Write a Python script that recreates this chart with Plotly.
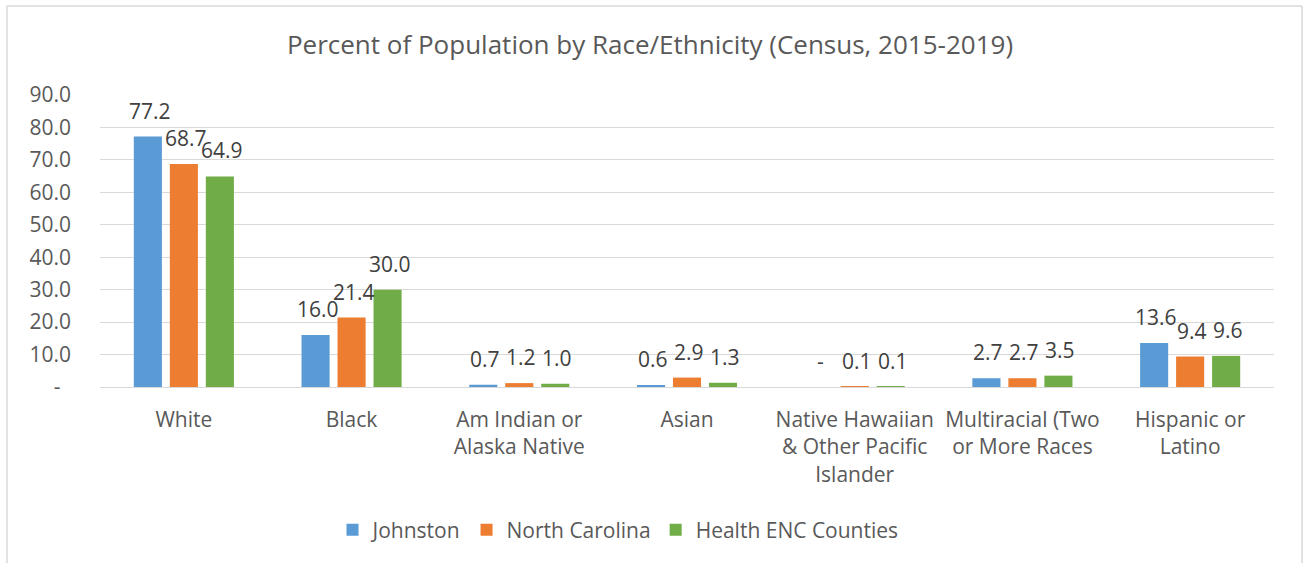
import plotly.graph_objects as go

categories = ["White", "Black", "Am Indian or<br>Alaska Native", "Asian",
              "Native Hawaiian<br>& Other Pacific<br>Islander",
              "Multiracial (Two<br>or More Races", "Hispanic or<br>Latino"]
johnston = [77.2, 16.0, 0.7, 0.6, 0.0, 2.7, 13.6]
north_carolina = [68.7, 21.4, 1.2, 2.9, 0.1, 2.7, 9.4]
health_enc = [64.9, 30.0, 1.0, 1.3, 0.1, 3.5, 9.6]
series_names = ["Johnston", "North Carolina", "Health ENC Counties"]
colors = ["#5B9BD5", "#ED7D31", "#70AD47"]
tick_vals = [0, 10, 20, 30, 40, 50, 60, 70, 80, 90]
tick_text = ["-\u2002", "10.0", "20.0", "30.0", "40.0", "50.0", "60.0", "70.0", "80.0", "90.0"]

FONT = "Open Sans"
FS = 21
W, H = 1304, 563
L, R, T, B = 100, 1274, 95, 387
BARGAP = 0.356
BARGROUPGAP = 0.22


def fmt(v):
    return "-" if v == 0 else f"{v:.1f}"


fig = go.Figure()
all_series = [johnston, north_carolina, health_enc]
for name, vals, c in zip(series_names, all_series, colors):
    fig.add_trace(go.Bar(
        x=categories, y=vals, name=name, marker_color=c, marker_line_width=0,
    ))

# data labels placed over each bar (Excel-style offset above bar top)
cat_w = (R - L) / len(categories)
slot = (1 - BARGAP) * cat_w / len(all_series)
for si, vals in enumerate(all_series):
    xs = (si - (len(all_series) - 1) / 2) * slot + 2
    for cat, v in zip(categories, vals):
        fig.add_annotation(x=cat, y=v, xref="x", yref="y", text=fmt(v),
                           showarrow=False, xanchor="center", yanchor="middle",
                           xshift=xs, yshift=26,
                           font=dict(family=FONT, size=FS, color="#404040"))


def px_x(p):
    return (p - L) / (R - L)


def px_y(p):
    return (B - p) / (B - T)


border = dict(type="line", xref="paper", yref="paper", line=dict(color="#D9D9D9", width=1.5))
fig.add_shape(**border, x0=px_x(7), x1=px_x(7), y0=px_y(6), y1=px_y(570))
fig.add_shape(**border, x0=px_x(7), x1=px_x(1302), y0=px_y(6), y1=px_y(6))
fig.add_shape(**border, x0=px_x(1302), x1=px_x(1302), y0=px_y(6), y1=px_y(570))

fig.update_layout(
    width=W, height=H,
    margin=dict(l=L, r=W - R, t=T, b=H - B, autoexpand=False),
    paper_bgcolor="white", plot_bgcolor="white",
    barmode="group", bargap=BARGAP, bargroupgap=BARGROUPGAP,
    title=dict(text="Percent of Population by Race/Ethnicity (Census, 2015-2019)",
               x=650 / W, xref="container", xanchor="center", y=1 - 45 / H, yanchor="middle",
               font=dict(family=FONT, size=26, color="#595959")),
    font=dict(family=FONT, color="#595959"),
    xaxis=dict(tickfont=dict(family=FONT, size=FS, color="#595959"), showgrid=False,
               showline=False, ticks="", ticklabelstandoff=18),
    yaxis=dict(range=[0, 90], tickvals=tick_vals, ticktext=tick_text,
               tickfont=dict(family=FONT, size=FS, color="#595959"),
               showgrid=True, gridcolor="#D9D9D9", gridwidth=1.3,
               zeroline=True, zerolinecolor="#D9D9D9", zerolinewidth=1.3,
               showline=False, ticks="", ticklabelstandoff=28),
    legend=dict(orientation="h", x=px_x(618), xanchor="center", y=px_y(530), yanchor="middle",
                font=dict(family=FONT, size=FS, color="#595959"),
                itemwidth=30, traceorder="normal"),
    showlegend=True,
)

fig.write_html("out.html", config={"displayModeBar": False},
               post_script="document.body.style.margin='0';")
